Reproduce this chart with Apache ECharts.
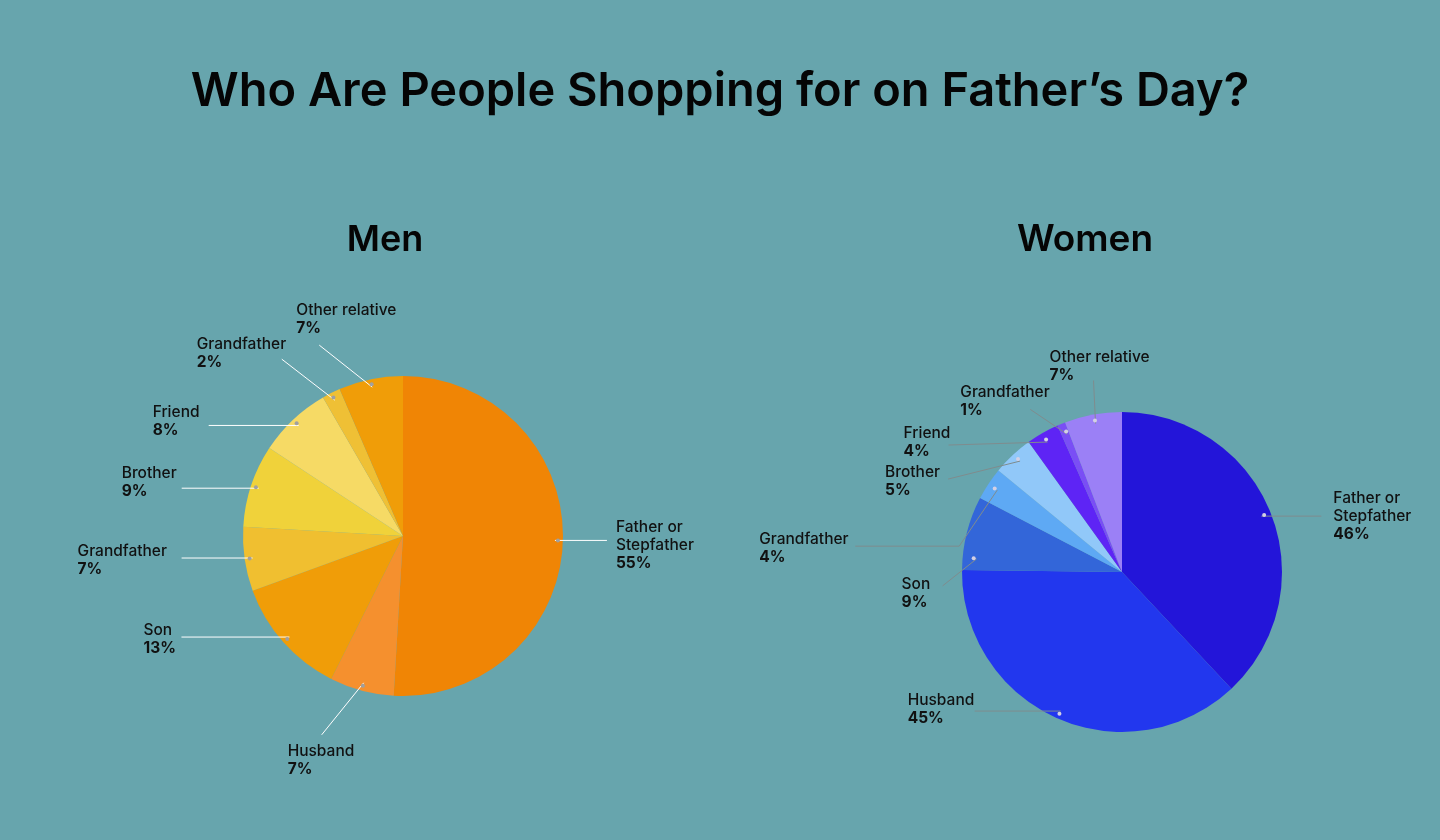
<!DOCTYPE html>
<html>
<head>
<meta charset="utf-8">
<script src="https://cdn.jsdelivr.net/npm/echarts@6/dist/echarts.min.js"></script>
<style>
html,body{margin:0;padding:0;background:#67A5AD;}
#chart{width:1440px;height:840px;}
</style>
</head>
<body>
<div id="chart"></div>
<script>
// ---- data ----
const chartTitle = 'Who Are People Shopping for on Father\u2019s Day?';
const groupTitles = ['Men', 'Women'];
const categories = ['Father or\nStepfather', 'Husband', 'Son', 'Grandfather', 'Brother', 'Friend', 'Grandfather', 'Other relative'];
const menValues = [55, 7, 13, 7, 9, 8, 2, 7];
const womenValues = [46, 45, 9, 4, 5, 4, 1, 7];

// ---- styles ----
const menColors = ['#F08505', '#F5902E', '#F09D08', '#F0BF30', '#F0D23A', '#F6DA65', '#EFC035', '#F09D08'];
const womenColors = ['#2315D9', '#2237EE', '#3366D9', '#5EA9F4', '#91C8F9', '#5E24F5', '#7A4EF5', '#9B80F6'];
const FONT = 'Inter, "Open Sans", sans-serif';

// label-line geometry relative to the slice anchor point (layout config)
const menLayout = [
  {anchor: [0, 0], line: [[52, 0]], label: [9, 5]},
  {anchor: [0, 0], line: [[-42, 52]], label: [-34, 26]},
  {anchor: [0, 0], line: [[-108, 0]], label: [-38, 2]},
  {anchor: [0, 0], line: [[-71, 0]], label: [-104, 2]},
  {anchor: [0, 0], line: [[-77, 0]], label: [-60, -6]},
  {anchor: [0, 0], line: [[-90, 0]], label: [-56, -4]},
  {anchor: [0, 0], line: [[-53, -41]], label: [-85, -6]},
  {anchor: [0, 0], line: [[-53, -42]], label: [-23, -26]}
];
const womenLayout = [
  {anchor: [-2, 0], line: [[60, 0]], label: [12, 0]},
  {anchor: [0, 0], line: [[-86, 0]], label: [-67, -2]},
  {anchor: [2, 24], line: [[-34, 27]], label: [-41, 7]},
  {anchor: [2, 2], line: [[-38, 56], [-104, 0]], label: [-96, 2]},
  {anchor: [2, 0], line: [[-72, 18]], label: [-63, 2]},
  {anchor: [1, 2], line: [[-99, 3]], label: [-45, -3]},
  {anchor: [3, 3], line: [[-37, -25]], label: [-70, -8]},
  {anchor: [1, 1], line: [[-2, -43]], label: [-44, -14]}
];

const R = 160, RA = 152;
const menCenter = [403, 536];
const womenCenter = [1122, 572];

function toData(values, colors) {
  return values.map((v, i) => ({name: categories[i], value: v, itemStyle: {color: colors[i]}}));
}

function labelFormatter(p) {
  const lines = p.name.split('\n').map(s => '{n|' + s + '}');
  return lines.join('\n') + '\n{v|' + p.value + '%}';
}

function makeLayout(layout) {
  return function (params) {
    const pts = params.labelLinePoints;
    const cfg = layout[params.dataIndex];
    const p0 = pts ? pts[0] : [0, 0];
    let x = p0[0] + cfg.anchor[0], y = p0[1] + cfg.anchor[1];
    const out = [[x, y]];
    cfg.line.forEach(d => { x += d[0]; y += d[1]; out.push([x, y]); });
    while (out.length < 3) out.push([x, y]);
    return {
      x: x + cfg.label[0],
      y: y + cfg.label[1],
      align: 'left',
      verticalAlign: 'middle',
      labelLinePoints: out,
      hideOverlap: false,
      moveOverlap: false
    };
  };
}

function makeDotLayout(layout) {
  return function (params) {
    const cfg = layout[params.dataIndex];
    return {dx: cfg.anchor[0], dy: cfg.anchor[1], hideOverlap: false, moveOverlap: false};
  };
}

function pieSet(values, colors, center, layout, lineColor, dotColor) {
  const base = {
    type: 'pie', center: center, startAngle: 90, clockwise: true,
    silent: true, animation: false, avoidLabelOverlap: false,
    emphasis: {disabled: true}
  };
  return [
    Object.assign({}, base, {
      radius: [0, R],
      data: toData(values, colors),
      label: {show: false},
      labelLine: {show: false}
    }),
    Object.assign({}, base, {
      z: 3,
      radius: [0, RA],
      data: values.map((v, i) => ({name: categories[i], value: v})),
      itemStyle: {color: 'rgba(0,0,0,0)'},
      label: {
        show: true, position: 'outside', formatter: labelFormatter,
        rich: {
          n: {fontFamily: FONT, fontSize: 15.5, fontWeight: 500, color: '#111111', lineHeight: 18, align: 'left'},
          v: {fontFamily: FONT, fontSize: 15.5, fontWeight: 700, color: '#111111', lineHeight: 18, align: 'left'}
        }
      },
      labelLine: {show: true, length: 10, length2: 10, smooth: false, lineStyle: {color: lineColor, width: 1}},
      labelLayout: makeLayout(layout)
    }),
    Object.assign({}, base, {
      z: 4,
      radius: [144, R],
      data: values.map((v, i) => ({name: categories[i], value: v})),
      itemStyle: {color: 'rgba(0,0,0,0)'},
      label: {
        show: true, position: 'inside', formatter: ' ',
        fontSize: 4, lineHeight: 4, width: 4, height: 4, padding: 0,
        backgroundColor: dotColor, borderRadius: 2
      },
      labelLine: {show: false},
      labelLayout: makeDotLayout(layout)
    })
  ];
}

const chart = echarts.init(document.getElementById('chart'), null, {renderer: 'canvas'});
chart.setOption({
  backgroundColor: '#67A5AD',
  animation: false,
  title: [
    {text: chartTitle, left: 720, top: 67, textAlign: 'center', padding: 0,
     textStyle: {fontFamily: FONT, fontSize: 47, fontWeight: 600, color: '#050505', lineHeight: 49}},
    {text: groupTitles[0], left: 385, top: 221, textAlign: 'center', padding: 0,
     textStyle: {fontFamily: FONT, fontSize: 36, fontWeight: 600, color: '#050505', lineHeight: 38}},
    {text: groupTitles[1], left: 1085, top: 221, textAlign: 'center', padding: 0,
     textStyle: {fontFamily: FONT, fontSize: 37, fontWeight: 600, color: '#050505', lineHeight: 38}}
  ],
  series: [].concat(
    pieSet(menValues, menColors, menCenter, menLayout, '#FFFFFF', '#A0A0A0'),
    pieSet(womenValues, womenColors, womenCenter, womenLayout, '#7F8C8E', '#D4D0E4')
  )
});
</script>
</body>
</html>
